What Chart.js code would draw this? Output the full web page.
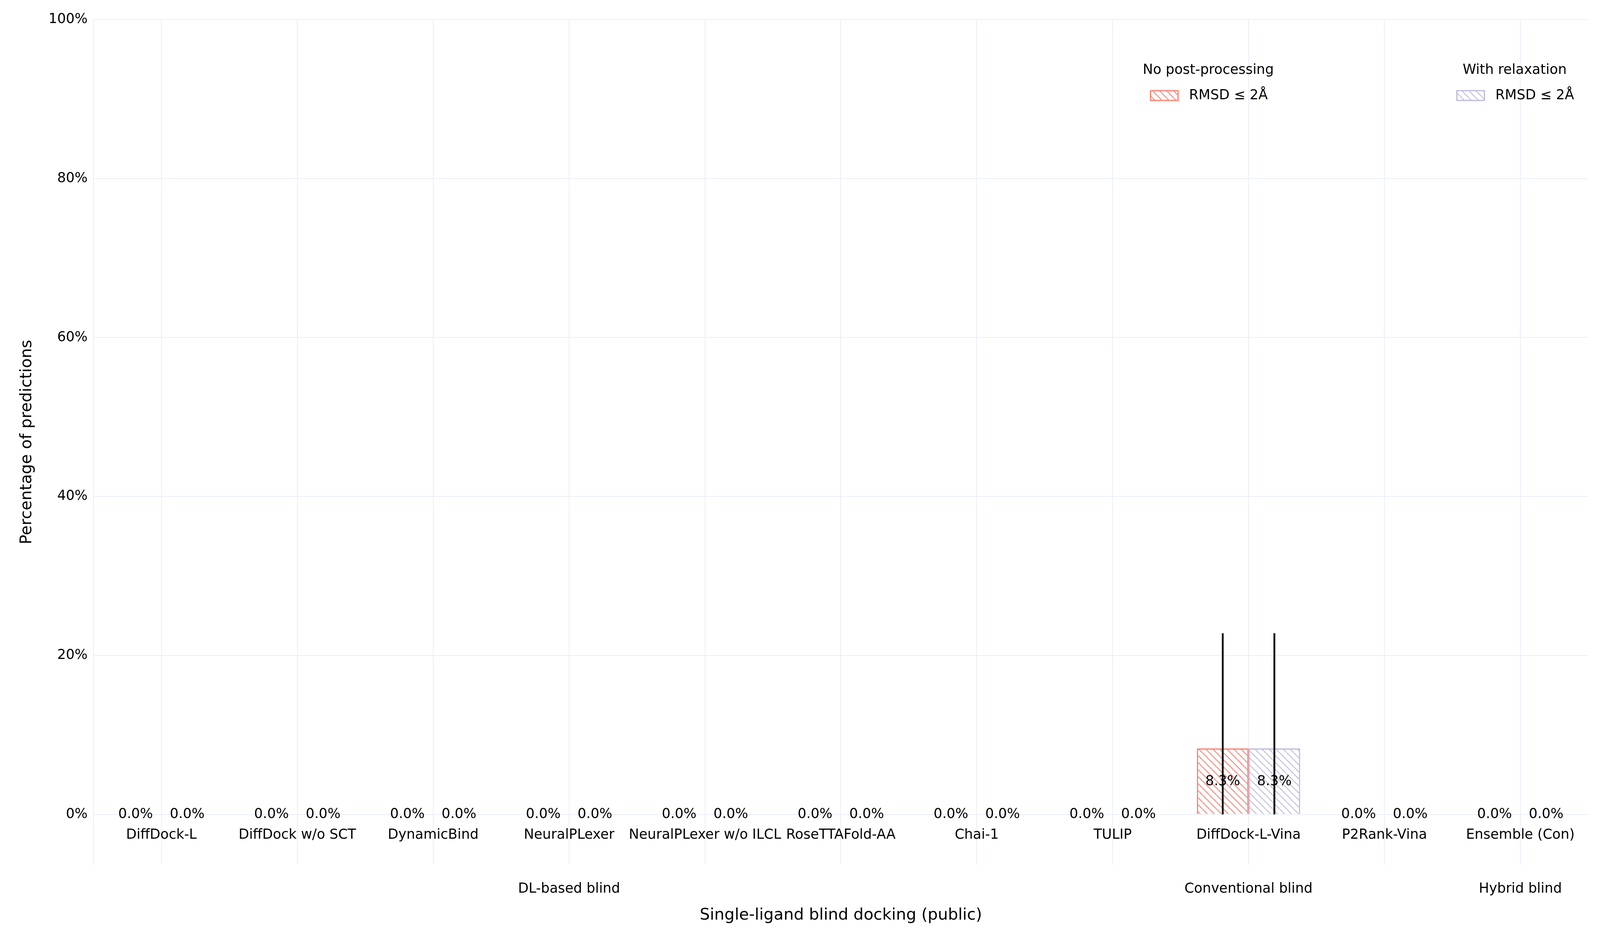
<!DOCTYPE html>
<html>
<head>
<meta charset="utf-8">
<script src="https://cdn.jsdelivr.net/npm/chart.js@4"></script>
<style>
  html, body { margin: 0; padding: 0; background: #fff; overflow: hidden; }
  #wrap { width: 100vw; height: 100vh; position: relative; }
</style>
</head>
<body>
<div id="wrap"><canvas id="chart"></canvas></div>
<script>
// données
const methods = ["DiffDock-L", "DiffDock w/o SCT", "DynamicBind", "NeuralPLexer", "NeuralPLexer w/o ILCL",
  "RoseTTAFold-AA", "Chai-1", "TULIP", "DiffDock-L-Vina", "P2Rank-Vina", "Ensemble (Con)"];
const noPost = [0, 0, 0, 0, 0, 0, 0, 0, 8.3, 0, 0];
const withRelax = [0, 0, 0, 0, 0, 0, 0, 0, 8.3, 0, 0];
const errNoPost = [0, 0, 0, 0, 0, 0, 0, 0, 14.5, 0, 0];
const errRelax = [0, 0, 0, 0, 0, 0, 0, 0, 14.5, 0, 0];
const groups = [["DL-based blind", 3], ["Conventional blind", 8], ["Hybrid blind", 10]];
const yTicks = [0, 20, 40, 60, 80, 100];

const RED = "#FA8072", PURPLE = "#BEBADA";
const FONT = "DejaVu Sans";
// échelle : tout est pensé pour 5400 px de large
const S = window.innerWidth / 5400;
const px = v => Math.round(v * S);

function hatch(color) {
  const t = Math.max(8, px(24));
  const c = document.createElement("canvas");
  c.width = t; c.height = t;
  const g = c.getContext("2d");
  g.strokeStyle = color; g.lineWidth = Math.max(1, 3 * S);
  for (let k = -1; k <= 1; k++) {
    g.beginPath(); g.moveTo(k * t, 0); g.lineTo(k * t + t, t); g.stroke();
  }
  return g.createPattern(c, "repeat");
}
const ctx0 = document.getElementById("chart").getContext("2d");

const decor = {
  id: "decor",
  afterDatasetsDraw(chart) {
    const ctx = chart.ctx, x = chart.scales.x, y = chart.scales.y;
    const H = chart.height;
    ctx.save();
    [[0, noPost, errNoPost], [1, withRelax, errRelax]].forEach(([di, vals, errs]) => {
      const meta = chart.getDatasetMeta(di);
      // barres d'erreur
      meta.data.forEach((bar, i) => {
        if (!errs[i]) return;
        ctx.strokeStyle = "#000"; ctx.lineWidth = 6 * S;
        ctx.beginPath();
        ctx.moveTo(bar.x, y.getPixelForValue(Math.max(vals[i] - errs[i], 0)));
        ctx.lineTo(bar.x, y.getPixelForValue(vals[i] + errs[i]));
        ctx.stroke();
      });
      // étiquettes de valeur
      ctx.fillStyle = "#000"; ctx.font = px(46) + "px '" + FONT + "'";
      ctx.textAlign = "center"; ctx.textBaseline = "middle";
      meta.data.forEach((bar, i) => {
        ctx.fillText(vals[i].toFixed(1) + "%", bar.x, y.getPixelForValue(vals[i] / 2));
      });
    });
    // noms des catégories
    ctx.font = px(46) + "px '" + FONT + "'";
    methods.forEach((m, i) => ctx.fillText(m, x.getPixelForValue(i), y.getPixelForValue(-2.6)));
    // groupes
    groups.forEach(([g, i]) => ctx.fillText(g, x.getPixelForValue(i), H * 2275 / 2400));
    ctx.font = px(54) + "px '" + FONT + "'";
    ctx.fillText("Single-ligand blind docking (public)", (chart.chartArea.left + chart.chartArea.right) / 2, H * 2342 / 2400);
    // légende
    const legend = [["No post-processing", RED, 4078], ["With relaxation", PURPLE, 5112]];
    legend.forEach(([t, col, cx]) => {
      ctx.font = px(46) + "px '" + FONT + "'"; ctx.textAlign = "center"; ctx.fillStyle = "#000";
      ctx.fillText(t, cx * S, H * 180 / 2400);
      const sx = (cx - 195) * S, sy = H * 232 / 2400;
      ctx.fillStyle = hatch(col); ctx.fillRect(sx, sy, 93 * S, 33 * S);
      ctx.strokeStyle = col; ctx.lineWidth = 4 * S; ctx.strokeRect(sx, sy, 93 * S, 33 * S);
      ctx.fillStyle = "#000"; ctx.textAlign = "left";
      ctx.fillText("RMSD \u2264 2\u00C5", sx + 130 * S, sy + 17 * S);
    });
    ctx.restore();
  }
};

new Chart(ctx0, {
  type: "bar",
  data: {
    labels: methods,
    datasets: [
      { label: "No post-processing", data: noPost, backgroundColor: hatch(RED), borderColor: RED, borderWidth: 4 * S, borderSkipped: "bottom" },
      { label: "With relaxation", data: withRelax, backgroundColor: hatch(PURPLE), borderColor: PURPLE, borderWidth: 4 * S, borderSkipped: "bottom" }
    ]
  },
  options: {
    responsive: true,
    maintainAspectRatio: false,
    animation: false,
    layout: { padding: { top: px(66), right: px(40), bottom: px(248), left: px(40) } },
    datasets: { bar: { categoryPercentage: 0.76, barPercentage: 1 } },
    plugins: { legend: { display: false }, tooltip: { enabled: false } },
    scales: {
      x: {
        offset: true,
        grid: { color: "#EBF0F8", lineWidth: 3 * S, offset: false, drawTicks: false },
        border: { display: false },
        ticks: { display: false }
      },
      y: {
        min: -6.3, max: 100,
        afterBuildTicks(s) { s.ticks = yTicks.map(v => ({ value: v })); },
        grid: { color: "#EBF0F8", lineWidth: 3 * S, drawTicks: false },
        border: { display: true, color: "#EBF0F8", width: 3 * S },
        ticks: { font: { family: FONT, size: px(46) }, color: "#000", padding: px(20), callback: v => v + "%" },
        title: { display: true, text: "Percentage of predictions", font: { family: FONT, size: px(54) }, color: "#000", padding: px(20) }
      }
    }
  },
  plugins: [decor]
});
</script>
</body>
</html>
